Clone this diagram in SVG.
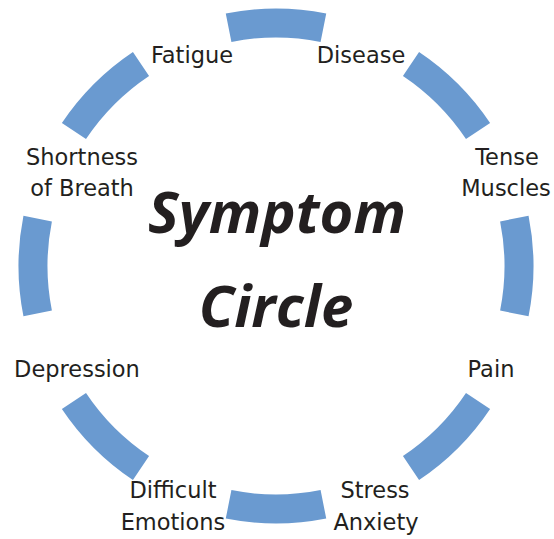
<svg xmlns="http://www.w3.org/2000/svg" width="554" height="539" viewBox="0 0 554 539">
  <style>
    .seg { fill: none; stroke: #6a9ad0; stroke-width: 29; stroke-linecap: butt; }
    .lbl { font-family: "DejaVu Sans", "Liberation Sans", sans-serif; font-size: 22.5px; fill: #231f20; text-anchor: middle; }
    .title { font-family: "Open Sans", "DejaVu Sans", sans-serif; font-size: 58px; font-weight: bold; font-style: italic; fill: #231f20; text-anchor: middle; }
  </style>
  <rect width="554" height="539" fill="#ffffff"/>
  <g id="connectors">
    <path class="seg" d="M514.33,218.59 A243,243 0 0 1 514.33,313.41"/>
    <path class="seg" d="M478.05,401 A243,243 0 0 1 411,468.05"/>
    <path class="seg" d="M323.41,504.33 A243,243 0 0 1 228.59,504.33"/>
    <path class="seg" d="M141,468.05 A243,243 0 0 1 73.95,401"/>
    <path class="seg" d="M37.67,313.41 A243,243 0 0 1 37.67,218.59"/>
    <path class="seg" d="M73.95,131 A243,243 0 0 1 141,63.95"/>
    <path class="seg" d="M228.59,27.67 A243,243 0 0 1 323.41,27.67"/>
    <path class="seg" d="M411,63.95 A243,243 0 0 1 478.05,131"/>
  </g>
  <g id="title">
    <text class="title" x="277" y="233">Symptom</text>
    <text class="title" x="276" y="327">Circle</text>
  </g>
  <g id="fatigue"><text class="lbl" x="192" y="63">Fatigue</text></g>
  <g id="disease"><text class="lbl" x="361" y="63">Disease</text></g>
  <g id="tense-muscles">
    <text class="lbl" x="507" y="165">Tense</text>
    <text class="lbl" x="506" y="196">Muscles</text>
  </g>
  <g id="pain"><text class="lbl" x="491" y="377">Pain</text></g>
  <g id="stress-anxiety">
    <text class="lbl" x="375" y="498">Stress</text>
    <text class="lbl" x="376" y="530">Anxiety</text>
  </g>
  <g id="difficult-emotions">
    <text class="lbl" x="173" y="498">Difficult</text>
    <text class="lbl" x="173" y="530">Emotions</text>
  </g>
  <g id="depression"><text class="lbl" x="77" y="377">Depression</text></g>
  <g id="shortness-of-breath">
    <text class="lbl" x="82" y="165">Shortness</text>
    <text class="lbl" x="82" y="196">of Breath</text>
  </g>
</svg>
